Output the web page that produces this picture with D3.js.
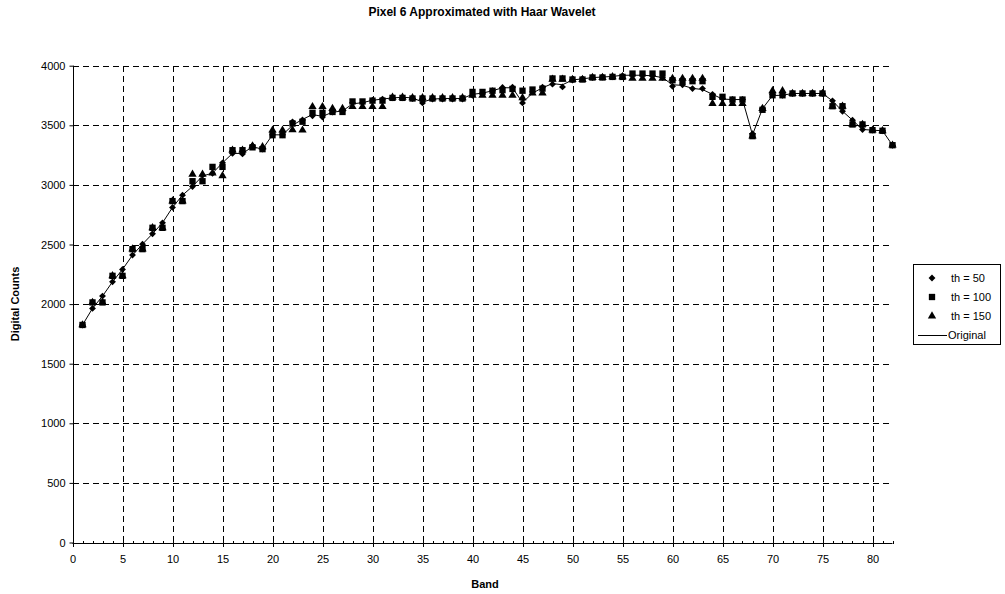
<!DOCTYPE html>
<html>
<head>
<meta charset="utf-8">
<script src="https://cdn.jsdelivr.net/npm/d3@7"></script>
<style>
  html, body { margin: 0; padding: 0; background: #fff; }
  svg text { font-family: "Liberation Sans", Arial, sans-serif; fill: #000; }
</style>
</head>
<body>
<svg id="chart" width="1005" height="594"></svg>
<script>
// Band numbers 1..82
const bands = d3.range(1, 83);

// Original spectrum (digital counts per band)
const original = [
  1825, 1964, 2067, 2187, 2291, 2411, 2503, 2590, 2682, 2811,
  2914, 2987, 3075, 3098, 3185, 3264, 3264, 3320, 3300, 3420,
  3420, 3500, 3550, 3590, 3575, 3610, 3620, 3680, 3690, 3710,
  3720, 3730, 3735, 3730, 3695, 3720, 3725, 3725, 3725, 3760,
  3770, 3790, 3815, 3815, 3690, 3770, 3815, 3850, 3840, 3880,
  3890, 3900, 3905, 3910, 3920, 3920, 3920, 3915, 3900, 3840,
  3835, 3810, 3800, 3760, 3720, 3716, 3716, 3420, 3640, 3750,
  3752, 3767, 3767, 3767, 3767, 3705, 3618, 3543, 3465, 3459,
  3454, 3333
];

// Reconstruction with threshold 50
const th50 = [
  1825, 1964, 2067, 2187, 2291, 2411, 2503, 2590, 2682, 2811,
  2914, 2987, 3080, 3098, 3185, 3264, 3260, 3328, 3300, 3420,
  3420, 3529, 3545, 3580, 3570, 3612, 3620, 3690, 3690, 3710,
  3720, 3730, 3730, 3725, 3688, 3720, 3720, 3720, 3720, 3752,
  3770, 3790, 3817, 3820, 3688, 3780, 3820, 3845, 3822, 3880,
  3890, 3900, 3905, 3906, 3915, 3920, 3920, 3915, 3900, 3828,
  3840, 3808, 3808, 3760, 3725, 3716, 3716, 3430, 3641, 3760,
  3752, 3767, 3767, 3767, 3767, 3705, 3618, 3543, 3465, 3459,
  3454, 3333
];

// Reconstruction with threshold 100
const th100 = [
  1825, 2014, 2014, 2237, 2237, 2461, 2461, 2640, 2640, 2864,
  2864, 3031, 3031, 3151, 3151, 3291, 3291, 3315, 3300, 3417,
  3417, 3515, 3530, 3605, 3605, 3612, 3612, 3700, 3700, 3707,
  3707, 3730, 3730, 3725, 3725, 3725, 3725, 3725, 3725, 3780,
  3780, 3790, 3795, 3805, 3790, 3800, 3808, 3893, 3893, 3884,
  3884, 3901, 3901, 3906, 3906, 3934, 3934, 3934, 3934, 3878,
  3870, 3870, 3870, 3739, 3739, 3716, 3716, 3409, 3630, 3752,
  3752, 3767, 3767, 3767, 3767, 3660, 3660, 3507, 3507, 3459,
  3454, 3333
];

// Reconstruction with threshold 150
const th150 = [
  1825, 2014, 2014, 2237, 2237, 2461, 2461, 2640, 2640, 2864,
  2864, 3088, 3088, 3098, 3076, 3291, 3291, 3325, 3320, 3459,
  3459, 3461, 3459, 3656, 3656, 3640, 3640, 3656, 3656, 3656,
  3656, 3735, 3735, 3730, 3730, 3730, 3730, 3730, 3730, 3752,
  3752, 3752, 3752, 3752, 3730, 3770, 3770, 3885, 3885, 3884,
  3884, 3901, 3901, 3906, 3906, 3893, 3893, 3893, 3893, 3893,
  3893, 3893, 3893, 3683, 3683, 3683, 3683, 3409, 3641, 3789,
  3789, 3767, 3767, 3767, 3767, 3660, 3660, 3507, 3507, 3459,
  3454, 3333
];

const xTicks = d3.range(0, 81, 5);
const yTicks = d3.range(0, 4001, 500);
const legendLabels = ["th = 50", "th = 100", "th = 150", "Original"];

const svg = d3.select("#chart");
const margin = { left: 72.5, right: 892.5, top: 65.7, bottom: 542.5 };

const x = d3.scaleLinear().domain([0, 82]).range([margin.left, margin.right]);
const y = d3.scaleLinear().domain([0, 4000]).range([margin.bottom, margin.top]);

// Dashed gridlines
const grid = svg.append("g").attr("stroke", "#000").attr("stroke-width", 1)
  .attr("stroke-dasharray", "6,4").attr("shape-rendering", "crispEdges");
grid.selectAll(".hg").data(yTicks.filter(d => d > 0)).join("line")
  .attr("x1", margin.left).attr("x2", margin.right)
  .attr("y1", d => Math.round(y(d)) + 0.5).attr("y2", d => Math.round(y(d)) + 0.5);
grid.selectAll(".vg").data(xTicks.filter(d => d > 0)).join("line")
  .attr("y1", margin.top).attr("y2", margin.bottom)
  .attr("x1", d => Math.round(x(d)) + 0.5).attr("x2", d => Math.round(x(d)) + 0.5);

// Y axis
const yAxis = d3.axisLeft(y).tickValues(yTicks).tickSize(4).tickPadding(4).tickFormat(d3.format("d"));
const gy = svg.append("g").attr("transform", `translate(${Math.round(margin.left) + 0.5},0)`).call(yAxis);
gy.select(".domain").attr("d", `M0,${margin.top}V${margin.bottom}`);
gy.selectAll(".tick line").attr("x2", -4).attr("x1", 0);
gy.selectAll("text").attr("font-size", 11).attr("font-family", "Liberation Sans, Arial, sans-serif");

// X axis: labels every 5, minor ticks every band
const xAxis = d3.axisBottom(x).tickValues(xTicks).tickSize(0).tickPadding(12).tickFormat(d3.format("d"));
const gx = svg.append("g").attr("transform", `translate(0,${Math.round(margin.bottom) + 0.5})`).call(xAxis);
gx.select(".domain").attr("d", `M${margin.left},0H${margin.right}`);
gx.selectAll("text").attr("font-size", 11).attr("font-family", "Liberation Sans, Arial, sans-serif");
gx.selectAll(".minor").data(d3.range(0, 83)).join("line")
  .attr("stroke", "#000").attr("shape-rendering", "crispEdges")
  .attr("x1", d => Math.round(x(d)) + 0.5).attr("x2", d => Math.round(x(d)) + 0.5)
  .attr("y1", -3).attr("y2", d => d % 5 === 0 ? 3 : 0);

// Original curve
const line = d3.line().x((d, i) => x(bands[i])).y(d => y(d));
svg.append("path").datum(original).attr("d", line)
  .attr("fill", "none").attr("stroke", "#000").attr("stroke-width", 1);

// Marker symbols
const diamond = d3.symbol().type(d3.symbolDiamond2).size(30);
const square = d3.symbol().type(d3.symbolSquare).size(40);
const triangle = d3.symbol().type(d3.symbolTriangle).size(30);

const drawSeries = (vals, sym) => {
  svg.append("g").selectAll("path").data(vals).join("path")
    .attr("d", sym)
    .attr("transform", (d, i) => `translate(${x(bands[i])},${y(d)})`)
    .attr("fill", "#000");
};
drawSeries(th150, triangle);
drawSeries(th100, square);
drawSeries(th50, diamond);

// Title and axis titles
svg.append("text").attr("x", 482).attr("y", 16).attr("text-anchor", "middle")
  .attr("font-size", 12).attr("font-weight", "bold")
  .text("Pixel 6 Approximated with Haar Wavelet");
svg.append("text").attr("x", 485).attr("y", 588).attr("text-anchor", "middle")
  .attr("font-size", 11).attr("font-weight", "bold").text("Band");
svg.append("text").attr("transform", "translate(19,304) rotate(-90)").attr("text-anchor", "middle")
  .attr("font-size", 11).attr("font-weight", "bold").text("Digital Counts");

// Legend
const lg = svg.append("g");
lg.append("rect").attr("x", 913.5).attr("y", 264.5).attr("width", 87).attr("height", 80)
  .attr("fill", "#fff").attr("stroke", "#000").attr("stroke-width", 1);
const legendSyms = [diamond, square, triangle, null];
legendLabels.forEach((lab, i) => {
  const cy = 278 + i * 19;
  if (legendSyms[i]) {
    lg.append("path").attr("d", legendSyms[i]).attr("transform", `translate(932,${cy})`).attr("fill", "#000");
  } else {
    lg.append("line").attr("x1", 918).attr("x2", 947).attr("y1", cy + 0.5).attr("y2", cy + 0.5)
      .attr("stroke", "#000");
  }
  lg.append("text").attr("x", legendSyms[i] ? 951 : 948).attr("y", cy + 4)
    .attr("font-size", 11).text(lab);
});
</script>
</body>
</html>
